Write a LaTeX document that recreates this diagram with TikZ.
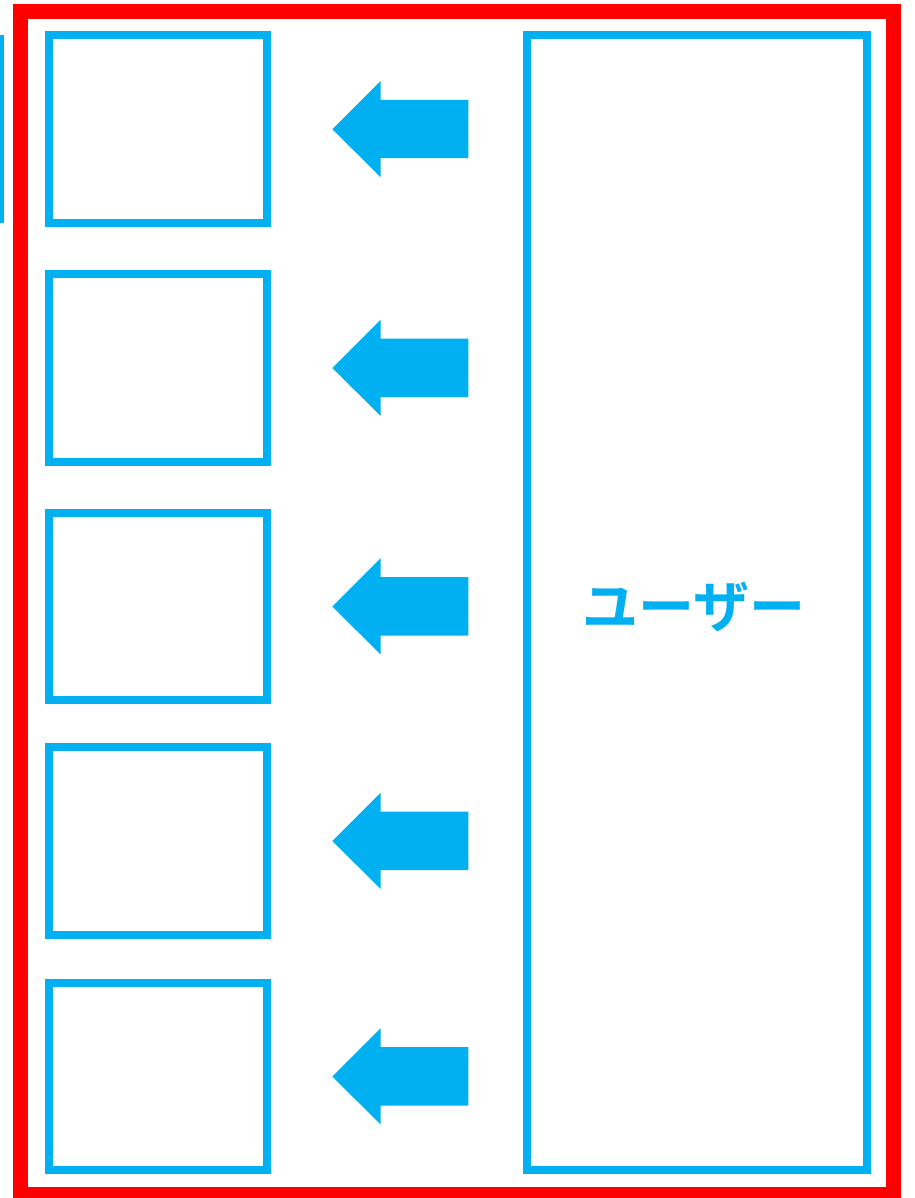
\documentclass[tikz,border=0pt]{standalone}
\usepackage{fontspec}
\newfontfamily\cjk{Noto Sans CJK JP}[BoldFont={Noto Sans CJK JP Bold}]
\definecolor{uiblue}{HTML}{00B0F0}
\definecolor{uired}{HTML}{FF0000}
\tikzset{
  frame/.style={draw=uired, line width=15.5pt},
  bluebox/.style={draw=uiblue, line width=8pt},
  fatarrow/.style={fill=uiblue, draw=none},
}
\begin{document}
\begin{tikzpicture}[x=1pt,y=-1pt]
\useasboundingbox (0,0) rectangle (914,1198);
\begin{scope}
\clip (0,0) rectangle (914,1198);
% red outer frame
\draw[frame] (20.5,11.3) rectangle (893.7,1195);
% partial box at the left edge
\draw[bluebox] (0,35.5) -- (0,223);
% left boxes
\foreach \i/\t/\b in {1/35.5/223, 2/274/462, 3/513/700, 4/747/935, 5/983/1170}{
  \draw[bluebox] (49,\t) rectangle (267,\b);
  \pgfmathsetmacro{\c}{(\t+\b)/2}
  \fill[fatarrow] (332.3,\c) -- (380.7,\c-48.3) -- (380.7,\c-29.3) -- (468.3,\c-29.3)
     -- (468.3,\c+29) -- (380.7,\c+29) -- (380.7,\c+48) -- cycle;
}
% user box
\draw[bluebox] (527,35.5) rectangle (867.3,1170) node[midway, text=uiblue, font=\cjk\bfseries\fontsize{56}{62}\selectfont, xshift=-3pt, yshift=-4pt] (user) {ユーザー};
\end{scope}
\end{tikzpicture}
\end{document}
